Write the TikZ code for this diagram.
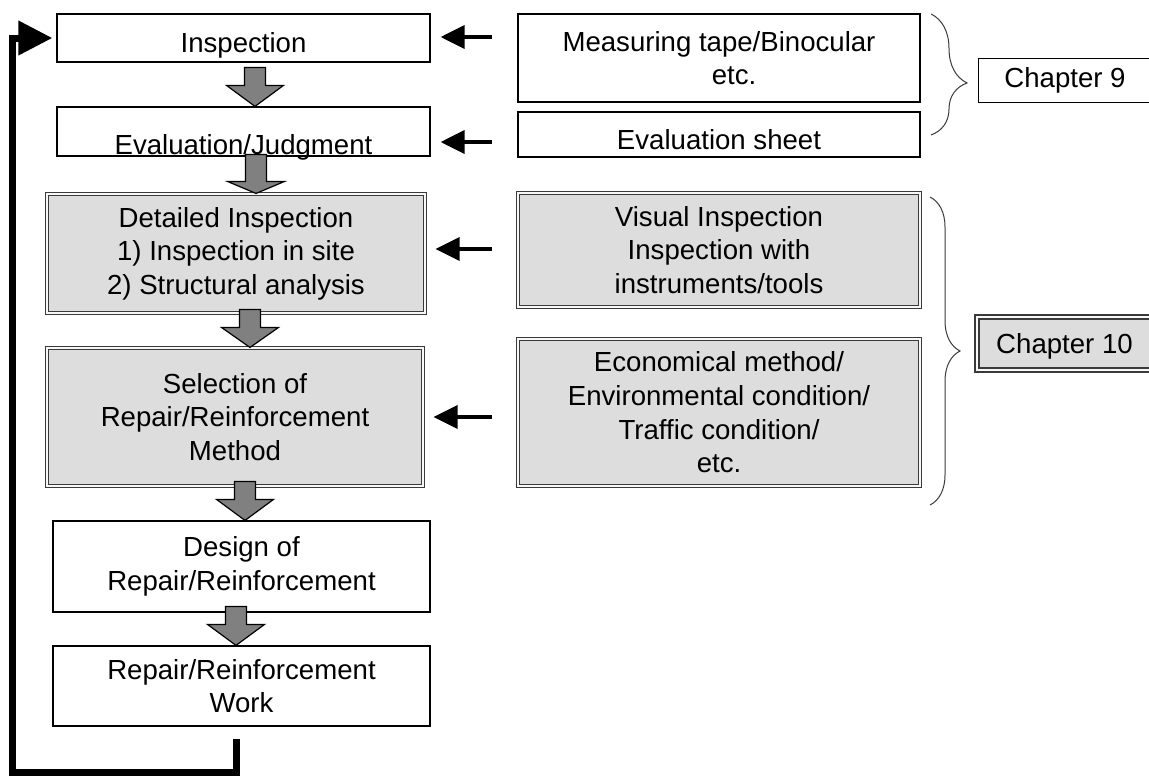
\documentclass[tikz,border=0pt]{standalone}
\usepackage{fontspec}
\setmainfont{Liberation Sans}
\usetikzlibrary{arrows.meta,decorations.pathreplacing}
\definecolor{ink}{HTML}{000000}
\definecolor{boxgray}{HTML}{DDDDDD}
\definecolor{edgegray}{HTML}{3A3A3A}
\definecolor{arrgray}{HTML}{808080}
\newcommand{\lowtext}[2]{\raisebox{-#1}[\height][\depth]{#2}}
\tikzset{
  stepbox/.style={draw=ink,fill=white,line width=0.6pt,align=center,
                  inner sep=0pt,font=\fontsize{13.8}{16.8}\selectfont},
  graybox/.style={stepbox,draw=edgegray,fill=boxgray,line width=0.55pt,
                  double=white!80!boxgray,double distance=0.8pt},
  chapbox/.style={stepbox,line width=0.5pt},
  chapgray/.style={stepbox,draw=edgegray,fill=boxgray,line width=1.1pt,
                   double=white!80!boxgray,double distance=0.9pt},
  blockarr/.style={draw=ink,fill=arrgray,line width=0.6pt,line join=miter},
  sidearr/.style={-{Triangle[length=12pt,width=11.5pt]},line width=1.8pt,
                  shorten <=12.5pt,shorten >=5pt},
  looparr/.style={-{Triangle[length=17pt,width=16.5pt]},line width=3.5pt,
                  shorten >=2pt},
  chapbrace/.style={decorate,decoration={brace,amplitude=#1},
                    draw=edgegray,line width=0.5pt}
}
\begin{document}
\begin{tikzpicture}[x=0.5pt,y=-0.5pt]
  \useasboundingbox (0,0) rectangle (1149,776);

  % main flow
  \node[stepbox,minimum width=186.5pt,minimum height=24pt] (insp) at (243.5,38)
    {\lowtext{3.5pt}{Inspection}};
  \node[stepbox,minimum width=186.5pt,minimum height=24.5pt] (eval) at (243.5,131.5)
    {\lowtext{8pt}{Evaluation/Judgment}};
  \node[graybox,minimum width=189pt,minimum height=59.5pt] (detail) at (236,253.5)
    {Detailed Inspection\\1) Inspection in site\\2) Structural analysis};
  \node[graybox,minimum width=188pt,minimum height=69pt] (select) at (235,417)
    {Selection of\\Repair/Reinforcement\\Method};
  \node[stepbox,minimum width=188.5pt,minimum height=45.5pt] (design) at (241.5,566.5)
    {Design of\\Repair/Reinforcement};
  \node[stepbox,minimum width=188.5pt,minimum height=40pt] (work) at (241.5,686)
    {Repair/Reinforcement\\Work};

  % tools and conditions
  \node[stepbox,minimum width=201pt,minimum height=44pt] (meas) at (719,58)
    {Measuring tape/Binocular\\\hspace*{15pt}etc.};
  \node[stepbox,minimum width=201pt,minimum height=22.5pt] (sheet) at (719,134.5)
    {\lowtext{2.5pt}{Evaluation sheet}};
  \node[graybox,minimum width=201pt,minimum height=57pt] (visual) at (719,250)
    {Visual Inspection\\Inspection with\hspace*{10pt}\\instruments/tools};
  \node[graybox,minimum width=201pt,minimum height=73.5pt] (econ) at (719,412.5)
    {Economical method/\\Environmental condition/\\Traffic condition/\\etc.};

  \node[chapbox,minimum width=87pt,minimum height=22pt] (ch9) at (1065,80) {Chapter 9};
  \node[chapgray,minimum width=87.5pt,minimum height=26.5pt] (ch10) at (1064.5,343.5)
    {\lowtext{1.2pt}{Chapter 10}};

  \foreach \b/\px/\h/\s in {eval/255/21/18,detail/256/12/27,select/250/20/18,
                            design/245/21/18,work/236/21/18} {
    \draw[blockarr] (\b.north -| \px,0) -- ++(-28.5,-\h) -- ++(18,0) -- ++(0,-\s)
      -- ++(21,0) -- ++(0,\s) -- ++(18,0) -- cycle;
  }

  \foreach \s/\t/\dy in {meas/insp/0.5,sheet/eval/-5.25,visual/detail/2.25,econ/select/0} {
    \draw[sidearr] ([yshift=\dy pt]\t.east -| \s.west) -- ([yshift=\dy pt]\t.east);
  }

  % back to inspection
  \coordinate (corner) at (12,772);
  \draw[looparr] ([xshift=-2.75pt,yshift=-6pt]work.south) |- (corner) |- (insp.west);

  \coordinate (b9a) at (931,14);
  \coordinate (b9b) at (931,135);
  \coordinate (b10a) at (930,197);
  \coordinate (b10b) at (930,505);
  \draw[chapbrace=18pt,decoration={aspect=0.57}] (b9a) -- (b9b);
  \draw[chapbrace=15pt] (b10a) -- (b10b);
\end{tikzpicture}
\end{document}
